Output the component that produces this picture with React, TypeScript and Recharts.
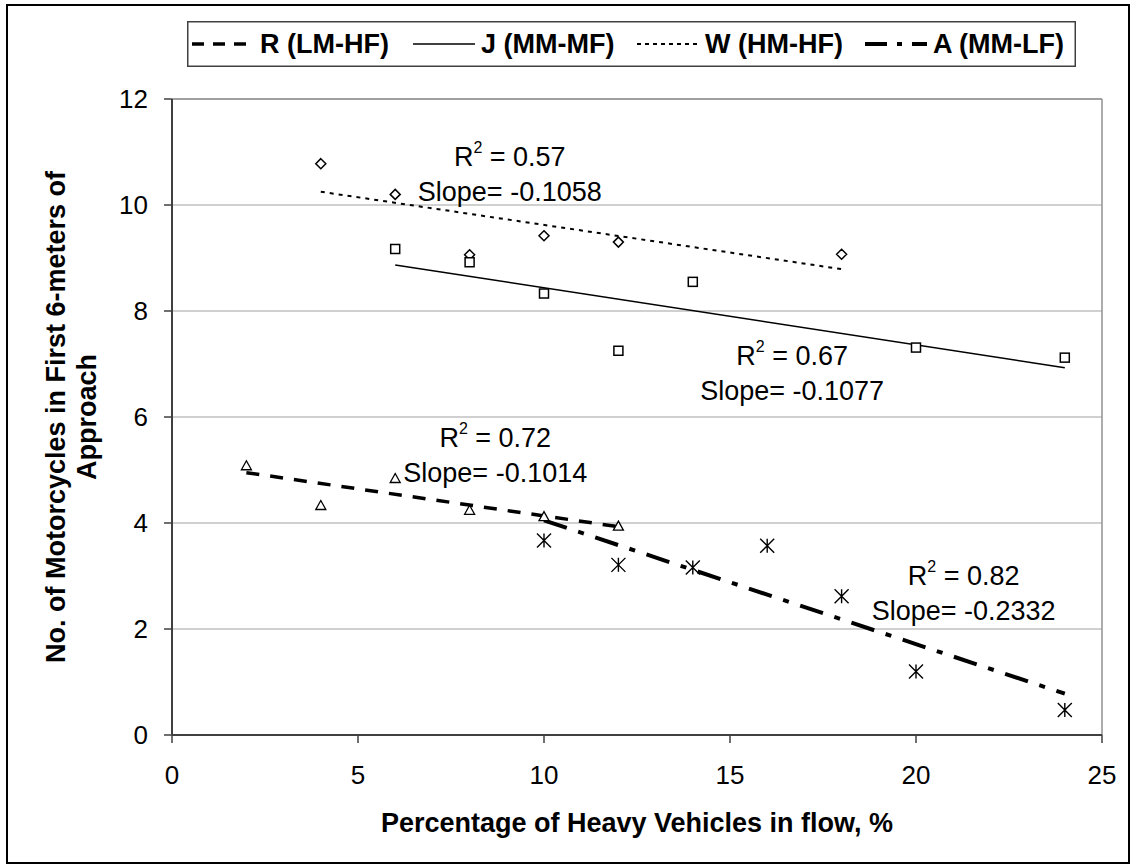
import React from "react";
import {
  ScatterChart,
  Scatter,
  XAxis,
  YAxis,
  CartesianGrid,
  ReferenceLine,
  ReferenceDot,
  Label,
} from "recharts";

const FONT = "'Liberation Sans', Arial, Helvetica, sans-serif";

const xTicks = [0, 5, 10, 15, 20, 25];
const yTicks = [0, 2, 4, 6, 8, 10, 12];

// W (HM-HF) - diamonds
const wPoints = [
  { x: 4, y: 10.78 },
  { x: 6, y: 10.2 },
  { x: 8, y: 9.06 },
  { x: 10, y: 9.42 },
  { x: 12, y: 9.3 },
  { x: 18, y: 9.07 },
];
const wTrend = [
  { x: 4, y: 10.25 },
  { x: 18, y: 8.79 },
];

// J (MM-MF) - squares
const jPoints = [
  { x: 6, y: 9.17 },
  { x: 8, y: 8.92 },
  { x: 10, y: 8.33 },
  { x: 12, y: 7.25 },
  { x: 14, y: 8.55 },
  { x: 20, y: 7.31 },
  { x: 24, y: 7.12 },
];
const jTrend = [
  { x: 6, y: 8.87 },
  { x: 24, y: 6.93 },
];

// R (LM-HF) - triangles
const rPoints = [
  { x: 2, y: 5.08 },
  { x: 4, y: 4.33 },
  { x: 6, y: 4.84 },
  { x: 8, y: 4.24 },
  { x: 10, y: 4.12 },
  { x: 12, y: 3.94 },
];
const rTrend = [
  { x: 2, y: 4.95 },
  { x: 12, y: 3.93 },
];

// A (MM-LF) - asterisks
const aPoints = [
  { x: 10, y: 3.67 },
  { x: 12, y: 3.21 },
  { x: 14, y: 3.16 },
  { x: 16, y: 3.57 },
  { x: 18, y: 2.62 },
  { x: 20, y: 1.2 },
  { x: 24, y: 0.47 },
];
const aTrend = [
  { x: 10, y: 4.05 },
  { x: 24, y: 0.78 },
];

// regression labels (anchored at the R² line, data coordinates)
const annotations = [
  { x: 9.08, y: 10.74, r2: "0.57", slope: "-0.1058" },
  { x: 16.67, y: 6.99, r2: "0.67", slope: "-0.1077" },
  { x: 8.69, y: 5.43, r2: "0.72", slope: "-0.1014" },
  { x: 21.28, y: 2.83, r2: "0.82", slope: "-0.2332" },
];

const legendItems = [
  { name: "R (LM-HF)", dash: "12 9", width: 3.5, left: 5 },
  { name: "J (MM-MF)", dash: undefined, width: 1.5, left: 226 },
  { name: "W (HM-HF)", dash: "4 4", width: 2, left: 450 },
  { name: "A (MM-LF)", dash: "22 10 5 10", width: 4, left: 678 },
];

const Diamond = (props: any) => {
  const { cx, cy } = props;
  return (
    <path
      d={`M${cx},${cy - 5} L${cx + 5},${cy} L${cx},${cy + 5} L${cx - 5},${cy} Z`}
      fill="#fff"
      stroke="#000"
      strokeWidth={1.5}
    />
  );
};

const Square = (props: any) => {
  const { cx, cy } = props;
  return <rect x={cx - 4.5} y={cy - 4.5} width={9} height={9} fill="#fff" stroke="#000" strokeWidth={1.5} />;
};

const Triangle = (props: any) => {
  const { cx, cy } = props;
  return (
    <path
      d={`M${cx},${cy - 5} L${cx + 5},${cy + 4} L${cx - 5},${cy + 4} Z`}
      fill="#fff"
      stroke="#000"
      strokeWidth={1.3}
    />
  );
};

const Asterisk = (props: any) => {
  const { cx, cy } = props;
  return (
    <path
      d={`M${cx - 7},${cy - 7} L${cx + 7},${cy + 7} M${cx + 7},${cy - 7} L${cx - 7},${cy + 7} M${cx},${cy - 7} L${cx},${cy + 7}`}
      stroke="#000"
      strokeWidth={1.4}
      fill="none"
    />
  );
};

const Annotation = ({ cx, cy, r2, slope }: any) => (
  <text x={cx} y={cy} textAnchor="middle" fontSize={27} fontFamily={FONT} fill="#000">
    <tspan>R</tspan>
    <tspan dy={-13} fontSize={16}>
      2
    </tspan>
    <tspan dy={13}>{` = ${r2}`}</tspan>
    <tspan x={cx} dy={35}>{`Slope= ${slope}`}</tspan>
  </text>
);

const XTitle = (props: any) => {
  const vb = props.viewBox;
  return (
    <text
      x={vb.x + vb.width / 2}
      y={vb.y + 97}
      textAnchor="middle"
      fontSize={27}
      fontWeight="bold"
      fontFamily={FONT}
      fill="#000"
    >
      Percentage of Heavy Vehicles in flow, %
    </text>
  );
};

const YTitle = (props: any) => {
  const vb = props.viewBox;
  const cy = vb.y + vb.height / 2;
  const x0 = vb.x + vb.width - 107;
  return (
    <g transform={`translate(${x0}, ${cy}) rotate(-90)`}>
      <text x={0} y={0} textAnchor="middle" fontSize={27} fontWeight="bold" fontFamily={FONT} fill="#000">
        <tspan x={0}>No. of Motorcycles in First 6-meters of</tspan>
        <tspan x={0} dy={31}>
          Approach
        </tspan>
      </text>
    </g>
  );
};

const ChartLegend = () => (
  <svg width={889} height={46} style={{ position: "absolute", left: 187, top: 21 }}>
    <rect x={0.75} y={0.75} width={887.5} height={44.5} fill="#fff" stroke="#404040" strokeWidth={1.5} />
    {legendItems.map((it) => (
      <g key={it.name}>
        <line
          x1={it.left}
          x2={it.left + 62}
          y1={23}
          y2={23}
          stroke="#000"
          strokeWidth={it.width}
          strokeDasharray={it.dash}
        />
        <text x={it.left + 68} y={32} fontSize={27} fontWeight="bold" fontFamily={FONT} fill="#000">
          {it.name}
        </text>
      </g>
    ))}
  </svg>
);

export default function App() {
  return (
    <div
      style={{
        position: "absolute",
        left: 0,
        top: 0,
        width: 1130,
        height: 864,
        background: "#fff",
        fontFamily: FONT,
      }}
    >
      <div
        style={{
          position: "absolute",
          left: 6,
          top: 4,
          width: 1120,
          height: 856,
          border: "2px solid #000",
        }}
      />
      <ScatterChart
        width={1130}
        height={864}
        margin={{ top: 99, right: 28, bottom: 69, left: 92 }}
        style={{ position: "absolute", left: 0, top: 0 }}
      >
        <CartesianGrid horizontal vertical={false} stroke="#c0c0c0" strokeWidth={1.5} />
        <XAxis
          type="number"
          dataKey="x"
          domain={[0, 25]}
          ticks={xTicks}
          height={60}
          tickSize={8}
          tickMargin={23}
          axisLine={{ stroke: "#404040", strokeWidth: 2 }}
          tickLine={{ stroke: "#404040", strokeWidth: 1.5 }}
          tick={{ fill: "#000", fontSize: 26, fontFamily: FONT }}
        >
          <Label content={<XTitle />} />
        </XAxis>
        <YAxis
          type="number"
          dataKey="y"
          domain={[0, 12]}
          ticks={yTicks}
          width={80}
          tickSize={8}
          tickMargin={16}
          axisLine={{ stroke: "#404040", strokeWidth: 2 }}
          tickLine={{ stroke: "#404040", strokeWidth: 1.5 }}
          tick={{ fill: "#000", fontSize: 26, fontFamily: FONT }}
        >
          <Label content={<YTitle />} />
        </YAxis>
        <ReferenceLine y={12} stroke="#909090" strokeWidth={1.5} />
        <ReferenceLine x={25} stroke="#909090" strokeWidth={1.5} />

        <ReferenceLine segment={wTrend} stroke="#000" strokeWidth={2} strokeDasharray="4 5" />
        <ReferenceLine segment={jTrend} stroke="#000" strokeWidth={1.5} />
        <ReferenceLine segment={rTrend} stroke="#000" strokeWidth={3.5} strokeDasharray="13 11" />
        <ReferenceLine segment={aTrend} stroke="#000" strokeWidth={4} strokeDasharray="24 12 6 12" />

        <Scatter name="W (HM-HF)" data={wPoints} shape={<Diamond />} isAnimationActive={false} />
        <Scatter name="J (MM-MF)" data={jPoints} shape={<Square />} isAnimationActive={false} />
        <Scatter name="R (LM-HF)" data={rPoints} shape={<Triangle />} isAnimationActive={false} />
        <Scatter name="A (MM-LF)" data={aPoints} shape={<Asterisk />} isAnimationActive={false} />

        {annotations.map((a) => (
          <ReferenceDot
            key={a.r2}
            x={a.x}
            y={a.y}
            r={1}
            shape={(p: any) => <Annotation cx={p.cx} cy={p.cy} r2={a.r2} slope={a.slope} />}
          />
        ))}
      </ScatterChart>
      <ChartLegend />
    </div>
  );
}
